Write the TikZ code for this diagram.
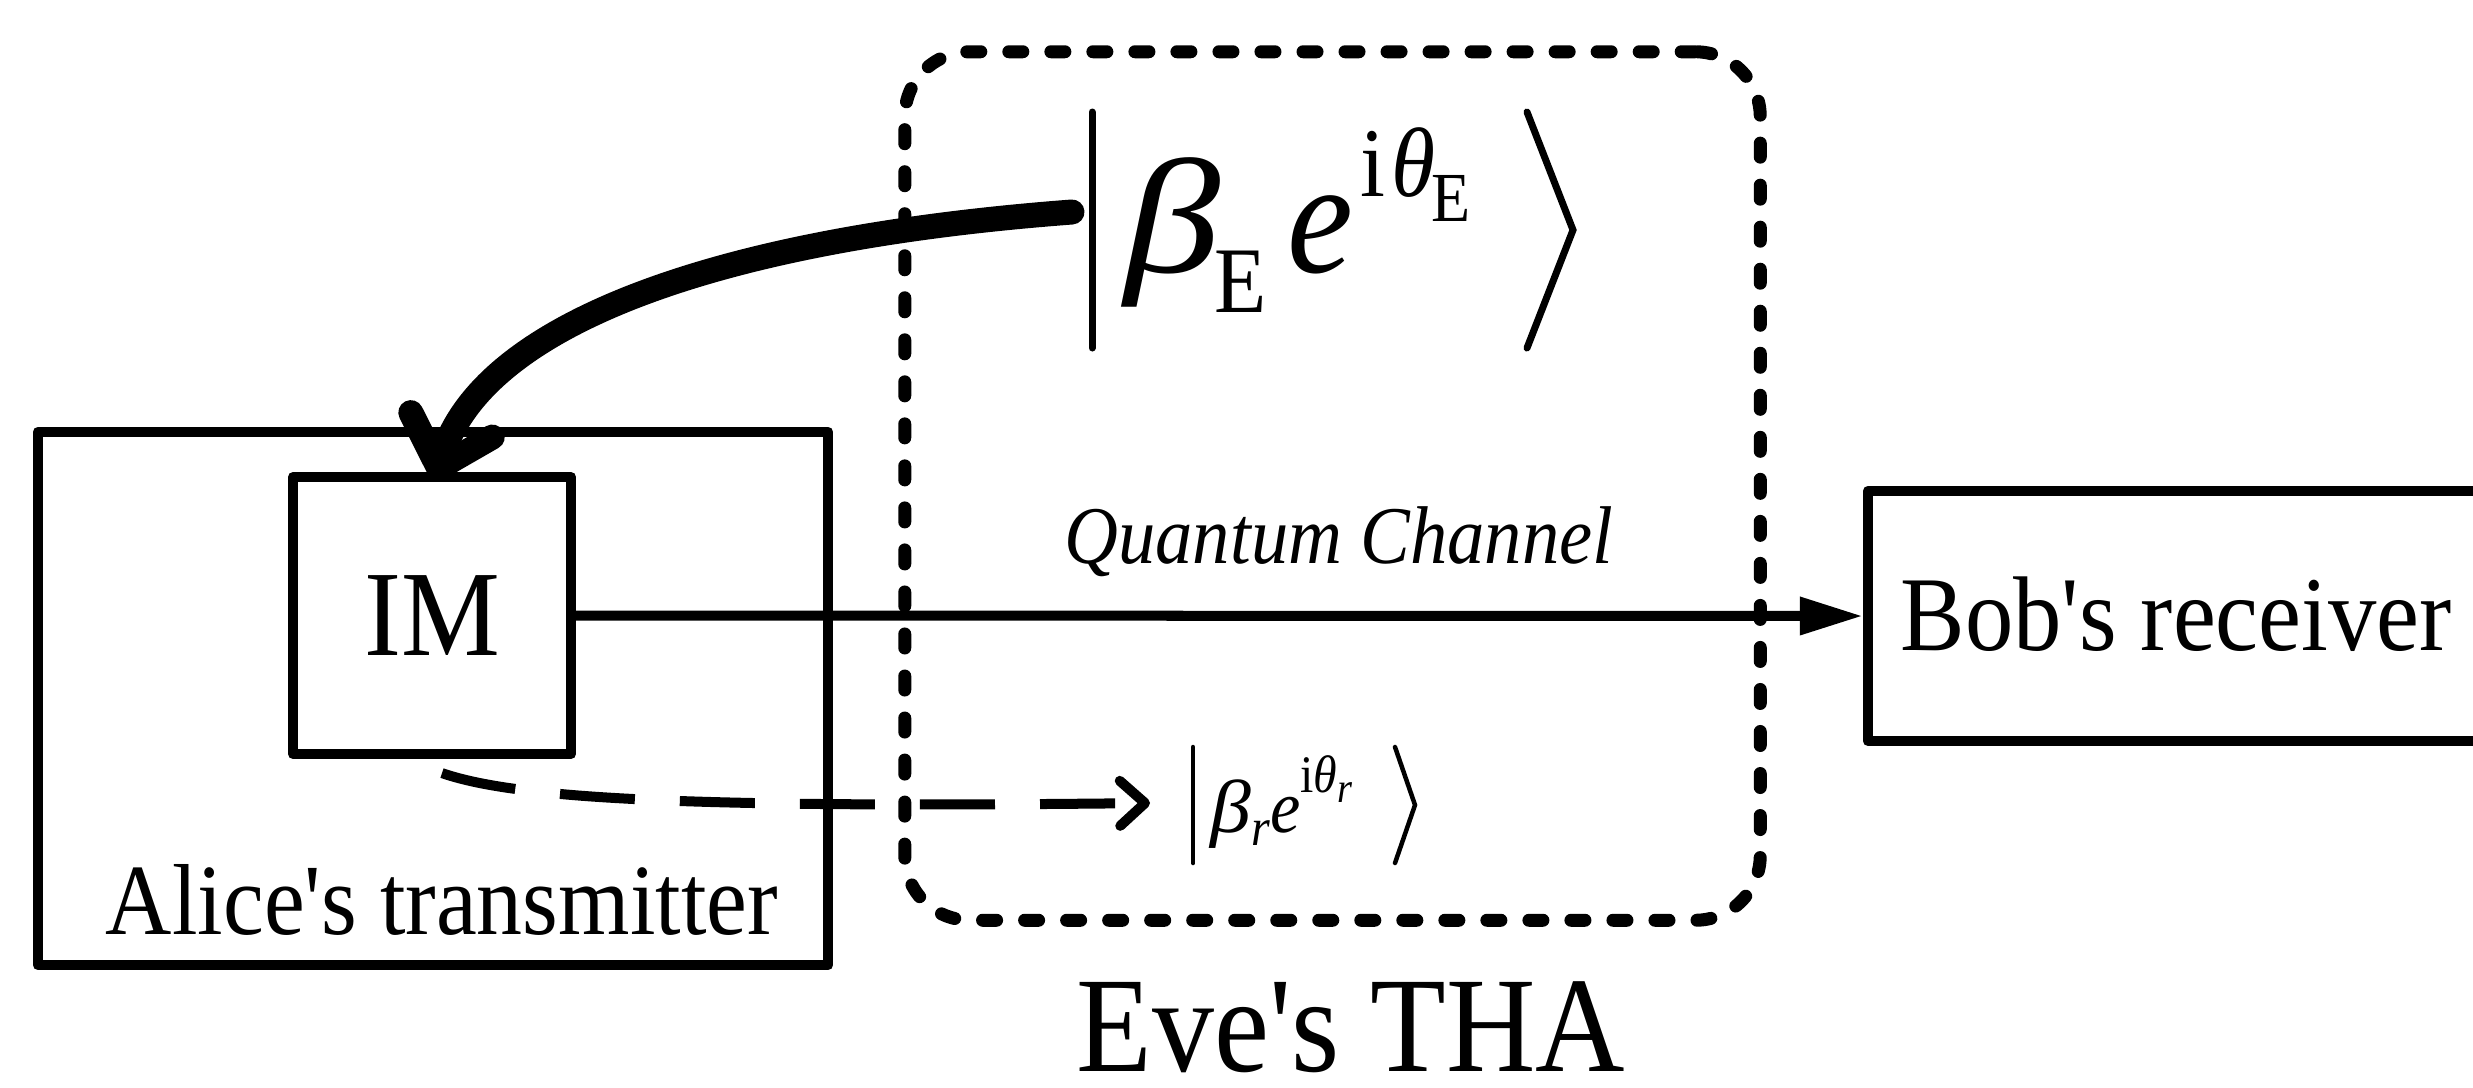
\documentclass[tikz,border=0pt]{standalone}
\usepackage{fontspec}
\setmainfont{Liberation Serif}[FakeStretch=0.91,Ligatures=TeXOff]
\usepackage{graphicx}
\usetikzlibrary{arrows.meta}
\newcommand\fsz[1]{\fontsize{#1}{#1}\selectfont}
\begin{document}
\begin{tikzpicture}[x=0.01cm,y=-0.01cm,
  box/.style={draw, line width=0.1cm, line join=round, inner sep=0pt},
  evebox/.style={draw, line width=0.13cm, line cap=round, dash pattern=on 0.14cm off 0.28cm, rounded corners=0.65cm, inner sep=0pt},
  mainarrow/.style={line width=0.1cm, -{Triangle[length=0.63cm,width=0.36cm]}},
  thickarrow/.style={line width=0.25cm, line cap=round, -{Straight Barb[length=0.45cm,width=0.85cm,round]}},
  dasharrow/.style={line width=0.1cm, dash pattern=on 0.75cm off 0.45cm, -{Straight Barb[length=0.25cm,width=0.45cm,round]}},
  delimbig/.style={line width=0.07cm, line cap=round, line join=miter},
  delimsmall/.style={line width=0.045cm, line cap=round, line join=miter},
  lbl/.style={inner sep=0pt}]
\useasboundingbox (0,0) rectangle (2473,1087);
\clip (0,0) rectangle (2473,1087);
\node[evebox, minimum width=8.55cm, minimum height=8.68cm] (eve) at (1332.5,486) {};
\node[box, minimum width=7.9cm, minimum height=5.33cm] (alice) at (433,698.5) {};
\node[box, minimum width=2.78cm, minimum height=2.77cm, font=\fsz{34.7pt}] (im) at (432,615.5) {IM};
\node[box, minimum width=7.32cm, minimum height=2.5cm] (bob) at (2234,616) {};
\node[lbl, anchor=base west, font=\fsz{30.2pt}] (bobtxt) at (1900,650) {Bob's receiver};
\node[lbl, anchor=base, font=\fsz{28.7pt}] (alicetxt) at (442,934) {Alice's transmitter};
\node[lbl, anchor=base, font=\itshape\fsz{23.3pt}] (qc) at (1339,563) {Quantum Channel};
\node[lbl, anchor=base, font=\fsz{38.7pt}] (evetxt) at (1351,1071) {Eve's THA};
% big ket
\node[lbl, anchor=base west] (ketE) at (1124,272) {\scalebox{1.3}[1]{\fsz{46.4pt}\itshape β}\kern-0.06cm\raisebox{-0.4cm}{\fsz{26.7pt}E}\kern0.2cm{\fsz{46.4pt}\itshape e}\kern0.08cm\raisebox{0.75cm}{\fsz{28pt}i\kern0.06cm{\itshape θ}\kern-0.04cm\raisebox{-0.25cm}{\fsz{20pt}E}}};
\draw[delimbig] (1092,112) -- (1092,348);
\draw[delimbig] (1527,112) -- (1573,230) -- (1527,348);
% small ket
\node[lbl, anchor=base west] (ketr) at (1210,832) {\scalebox{1.2}[1]{\fsz{21.3pt}\itshape β}\raisebox{-0.13cm}{\fsz{15pt}\itshape r}{\fsz{21.3pt}\itshape e}\raisebox{0.39cm}{\fsz{15pt}i{\itshape θ}\raisebox{-0.09cm}{\fsz{12pt}\itshape r}}};
\draw[delimsmall] (1193,747) -- (1193,863);
\draw[delimsmall] (1395,747) -- (1415,805) -- (1395,863);
\coordinate (eS) at (1072,212);
\coordinate (imTop) at ([xshift=0.03cm,yshift=-0.08cm]im.north);
\coordinate (imBot) at ([xshift=0.1cm,yshift=-0.14cm]im.south);
\coordinate (rEnd) at (1150,803);
\draw[mainarrow] (im.east) -- (bob.west);
\draw[thickarrow] (eS) .. controls (700,240) and (480,330) .. (imTop);
\draw[dasharrow] (imBot) .. controls (520,800) and (700,808) .. (rEnd);
\end{tikzpicture}
\end{document}
